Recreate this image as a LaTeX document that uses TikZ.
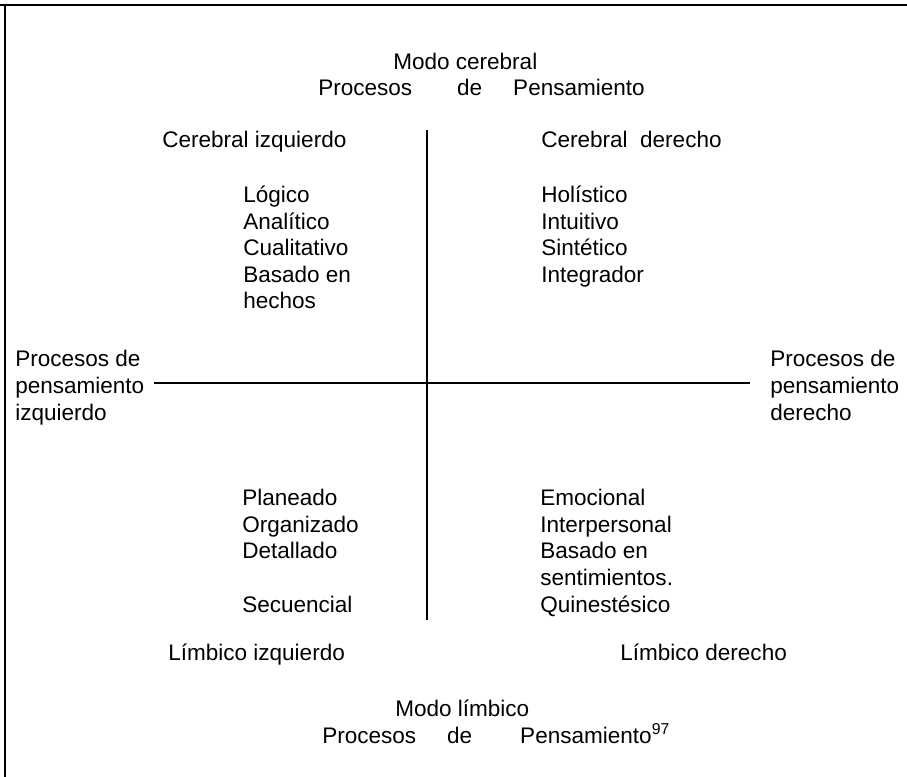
\documentclass[tikz,border=0pt]{standalone}
\usepackage{fontspec}
\setmainfont{Liberation Sans}
\tikzset{
  txt/.style={inner sep=0pt, anchor=base west, align=left, font=\fontsize{16.9}{19.9}\selectfont},
  eje/.style={line width=1.5pt},
}
\begin{document}
\begin{tikzpicture}[x=0.75pt,y=0.75pt,yscale=-1,xscale=1]
\useasboundingbox (0,0) rectangle (907,777);

%Marco
\draw [eje] (0,5) -- (907,5);
\draw [eje] (5,5) -- (5,777);

% Text Node
\node [txt] (mcer) at (393,70) {Modo cerebral};
% Text Node
\node [txt] (pcer) at (318,96) {Procesos\hspace{33.75pt}de\hspace{23.25pt}Pensamiento};
% Text Node
\node [txt] (cizq) at (162,148) {Cerebral izquierdo};
% Text Node
\node [txt] (cder) at (541,148) {Cerebral\ \ derecho};
% Text Node (base = ultima linea)
\node [txt] (lcizq) at (243,309) {Lógico\\Analítico\\Cualitativo\\Basado en\\hechos};
% Text Node
\node [txt] (lcder) at (541,282.5) {Holístico\\Intuitivo\\Sintético\\Integrador};
% Text Node
\node [txt] (pizq) at (15,420) {Procesos de\\pensamiento\\izquierdo};
% Text Node
\node [txt] (pder) at (770,420) {Procesos de\\pensamiento\\derecho};
% Text Node
\node [txt] (llizq) at (242,612) {Planeado\\Organizado\\Detallado\\[19.9pt]Secuencial};
% Text Node
\node [txt] (llder) at (540,612) {Emocional\\Interpersonal\\Basado en\\sentimientos.\\Quinestésico};
% Text Node
\node [txt] (limizq) at (168,660) {Límbico izquierdo};
% Text Node
\node [txt] (limder) at (620,660) {Límbico derecho};
% Text Node
\node [txt] (mlim) at (395,716) {Modo límbico};
% Text Node
\node [txt] (plim) at (322,743) {Procesos\hspace{23.25pt}de\hspace{36pt}Pensamiento\textsuperscript{97}};

%Ejes
\coordinate (arriba) at (427,130);
\coordinate (abajo) at (427,620);
\coordinate (cruce) at (427,383);
\draw [eje] (arriba) -- (abajo);
\draw [eje] ([xshift=6.75pt]pizq.east |- cruce) -- ([xshift=-15pt]pder.west |- cruce);

\end{tikzpicture}
\end{document}
